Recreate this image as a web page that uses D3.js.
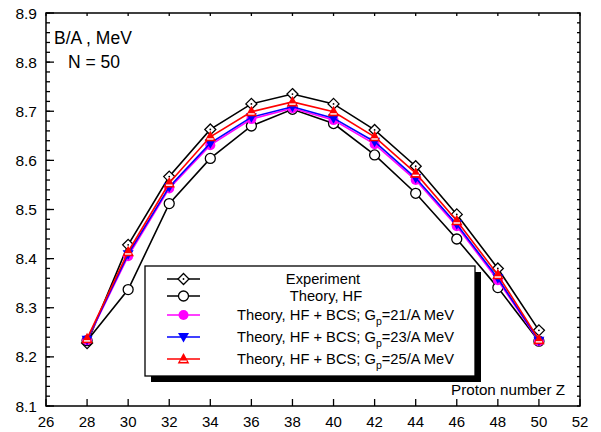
<!DOCTYPE html>
<html>
<head>
<meta charset="utf-8">
<script src="https://cdn.jsdelivr.net/npm/d3@7"></script>
<style>
  body { margin: 0; background: #fff; }
  svg { display: block; font-family: "Liberation Sans", Arial, sans-serif; }
</style>
</head>
<body>
<div id="chart"></div>
<script>
const protonZ = [28, 30, 32, 34, 36, 38, 40, 42, 44, 46, 48, 50];
const experiment = [8.228, 8.428, 8.567, 8.663, 8.715, 8.735, 8.715, 8.662, 8.588, 8.490, 8.380, 8.254];
const theoryHF   = [8.233, 8.337, 8.512, 8.604, 8.670, 8.704, 8.675, 8.611, 8.533, 8.440, 8.341, 8.232];
const bcs21      = [8.234, 8.405, 8.543, 8.631, 8.684, 8.706, 8.682, 8.633, 8.560, 8.466, 8.356, 8.232];
const bcs23      = [8.235, 8.409, 8.546, 8.635, 8.688, 8.709, 8.686, 8.638, 8.564, 8.470, 8.360, 8.233];
const bcs25      = [8.237, 8.414, 8.554, 8.648, 8.699, 8.719, 8.699, 8.648, 8.574, 8.477, 8.367, 8.235];
const xTicks = [26, 28, 30, 32, 34, 36, 38, 40, 42, 44, 46, 48, 50, 52];
const yTicks = [8.1, 8.2, 8.3, 8.4, 8.5, 8.6, 8.7, 8.8, 8.9];

const W = 601, H = 432;
const x = d3.scaleLinear().domain([26, 52]).range([46, 580]);
const y = d3.scaleLinear().domain([8.1, 8.9]).range([406, 13]);

const svg = d3.select("#chart").append("svg")
  .attr("width", W).attr("height", H);

// frame
svg.append("rect")
  .attr("x", x(26)).attr("y", y(8.9))
  .attr("width", x(52) - x(26)).attr("height", y(8.1) - y(8.9))
  .attr("fill", "none").attr("stroke", "#000").attr("stroke-width", 1.5);

// left axis (ticks inward)
const minorY = d3.range(8.1, 8.9001, 0.02);
const gl = svg.append("g");
gl.selectAll("line.minor").data(minorY).join("line")
  .attr("x1", x(26)).attr("x2", x(26) + 4)
  .attr("y1", d => y(d)).attr("y2", d => y(d))
  .attr("stroke", "#000").attr("stroke-width", 1.3);
gl.selectAll("line.major").data(yTicks).join("line")
  .attr("x1", x(26)).attr("x2", x(26) + 8)
  .attr("y1", d => y(d)).attr("y2", d => y(d))
  .attr("stroke", "#000").attr("stroke-width", 1.3);
gl.selectAll("text").data(yTicks).join("text")
  .attr("x", x(26) - 9).attr("y", d => y(d) + 5.5)
  .attr("text-anchor", "end").attr("font-size", 15.5)
  .text(d => d3.format(".1f")(d));

// right axis small ticks
svg.append("g").selectAll("line").data(minorY).join("line")
  .attr("x1", x(52)).attr("x2", x(52) - 3)
  .attr("y1", d => y(d)).attr("y2", d => y(d))
  .attr("stroke", "#000").attr("stroke-width", 1.3);

// bottom axis
const gb = svg.append("g");
gb.selectAll("line").data(xTicks).join("line")
  .attr("x1", d => x(d)).attr("x2", d => x(d))
  .attr("y1", y(8.1)).attr("y2", y(8.1) - 7)
  .attr("stroke", "#000").attr("stroke-width", 1.3);
gb.selectAll("text").data(xTicks).join("text")
  .attr("x", d => x(d)).attr("y", 427)
  .attr("text-anchor", "middle").attr("font-size", 15)
  .text(d => d);

// top axis small ticks
svg.append("g").selectAll("line").data(xTicks).join("line")
  .attr("x1", d => x(d)).attr("x2", d => x(d))
  .attr("y1", y(8.9)).attr("y2", y(8.9) + 3)
  .attr("stroke", "#000").attr("stroke-width", 1.3);

// labels
svg.append("text").attr("x", 54).attr("y", 44).attr("font-size", 17.5).text("B/A , MeV");
svg.append("text").attr("x", 68).attr("y", 68).attr("font-size", 17.5).text("N = 50");
svg.append("text").attr("x", 565).attr("y", 395).attr("text-anchor", "end")
  .attr("font-size", 15.2).text("Proton number Z");

// markers
function drawMarker(g, type, color) {
  if (type === "diamond") {
    g.append("path").attr("d", "M0,-5.5L5.5,0L0,5.5L-5.5,0Z")
      .attr("fill", "#fff").attr("stroke", "#000").attr("stroke-width", 1.3);
    g.append("circle").attr("r", 0.9).attr("fill", "#000");
  } else if (type === "open") {
    g.append("circle").attr("r", 5).attr("fill", "#fff").attr("stroke", "#000").attr("stroke-width", 1.3);
  } else if (type === "dot") {
    g.append("circle").attr("r", 5).attr("fill", color);
  } else if (type === "down") {
    g.append("path").attr("d", "M-5.5,-4L5.5,-4L0,5.5Z").attr("fill", color);
  } else if (type === "up") {
    g.append("path").attr("d", "M0,-6L5.8,4.5L-5.8,4.5Z").attr("fill", color);
    g.append("line").attr("x1", -3.2).attr("x2", 3.2).attr("y1", 2.2).attr("y2", 2.2)
      .attr("stroke", "#fff").attr("stroke-width", 1.4);
  }
}

const series = [
  { name: "Experiment", values: experiment, color: "#000", marker: "diamond" },
  { name: "Theory, HF", values: theoryHF, color: "#000", marker: "open" },
  { name: "21", values: bcs21, color: "#ff00ff", marker: "dot" },
  { name: "23", values: bcs23, color: "#0000ff", marker: "down" },
  { name: "25", values: bcs25, color: "#ff0000", marker: "up" }
];

const line = d3.line().x((d, i) => x(protonZ[i])).y(d => y(d));

series.forEach(s => {
  svg.append("path").datum(s.values)
    .attr("d", line).attr("fill", "none")
    .attr("stroke", s.color).attr("stroke-width", 1.6);
  s.values.forEach((v, i) => {
    const g = svg.append("g").attr("transform", `translate(${x(protonZ[i])},${y(v)})`);
    drawMarker(g, s.marker, s.color);
  });
});

// legend
const lg = svg.append("g");
lg.append("rect").attr("x", 151).attr("y", 272).attr("width", 330).attr("height", 110).attr("fill", "#000");
lg.append("rect").attr("x", 145).attr("y", 266).attr("width", 330).attr("height", 110)
  .attr("fill", "#fff").attr("stroke", "#000").attr("stroke-width", 1.3);

const rowsY = [279, 296, 315, 337, 359];
series.forEach((s, i) => {
  const ry = rowsY[i];
  lg.append("line").attr("x1", 167).attr("x2", 200).attr("y1", ry).attr("y2", ry)
    .attr("stroke", s.color).attr("stroke-width", 1.6);
  drawMarker(lg.append("g").attr("transform", `translate(183.5,${ry})`), s.marker, s.color);
  if (i < 2) {
    lg.append("text").attr("x", i === 0 ? 323 : 326).attr("y", ry + 5)
      .attr("text-anchor", "middle").attr("font-size", 14.7).text(s.name);
  } else {
    const t = lg.append("text").attr("x", 237).attr("y", ry + 5).attr("font-size", 14.7);
    t.append("tspan").text("Theory, HF + BCS; G");
    t.append("tspan").attr("font-size", 10.5).attr("dy", 5).text("p");
    t.append("tspan").attr("dy", -5).text(`=${s.name}/A MeV`);
  }
});
</script>
</body>
</html>
